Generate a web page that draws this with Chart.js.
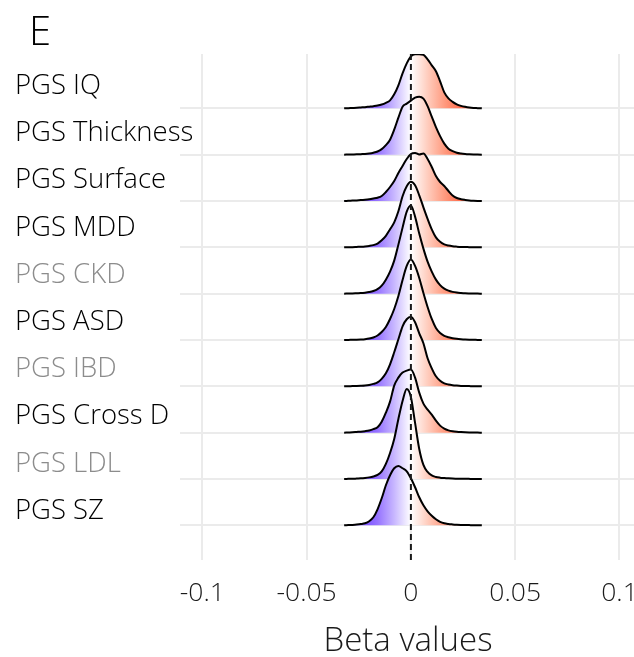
<!DOCTYPE html>
<html>
<head>
<meta charset="utf-8">
<script src="https://cdn.jsdelivr.net/npm/chart.js@4.4.0/dist/chart.umd.min.js"></script>
<style>
  html, body { margin: 0; padding: 0; background: #fff; overflow: hidden; }
  #wrap { width: 660px; height: 657px; }
</style>
</head>
<body>
<div id="wrap"><canvas id="ridges" width="660" height="657"></canvas></div>
<script>
// categories, top to bottom
const categories = ['PGS IQ', 'PGS Thickness', 'PGS Surface', 'PGS MDD', 'PGS CKD',
                    'PGS ASD', 'PGS IBD', 'PGS Cross D', 'PGS LDL', 'PGS SZ'];
// grey labels = not significant
const significant = [true, true, true, true, false, true, false, true, false, true];

// beta values at which the densities were read
const betaGrid = [-0.032, -0.030, -0.028, -0.026, -0.024, -0.022, -0.020, -0.018, -0.016, -0.014,
                  -0.012, -0.010, -0.008, -0.006, -0.004, -0.002, 0.000, 0.002, 0.004, 0.006,
                  0.008, 0.010, 0.012, 0.014, 0.016, 0.018, 0.020, 0.022, 0.024, 0.026,
                  0.028, 0.030, 0.032, 0.034];

// densities
const densIQ        = [0, 0.2, 0.4, 0.6, 0.9, 1.2, 1.7, 2.2, 2.8, 3.8, 5.5, 8, 14, 23, 35, 45, 52, 54, 54, 53.5, 49, 43, 37, 27, 16, 10, 6.5, 4, 2.5, 1.5, 0.8, 0.4, 0.2, 0];
const densThickness = [0, 0.1, 0.2, 0.3, 0.5, 0.7, 1.2, 2, 3.2, 5.5, 9.5, 15, 25, 37, 48, 51, 54, 57, 58, 56, 48.5, 38, 27.5, 18.5, 11, 6, 3.5, 2, 1.2, 0.7, 0.4, 0.2, 0.1, 0];
const densSurface   = [0, 0.2, 0.4, 0.6, 0.9, 1.3, 1.8, 2.5, 3.3, 5, 9, 14, 20, 28, 35, 42, 47, 48, 46.5, 47.5, 42, 34, 25, 19, 15, 10, 5.5, 3, 1.8, 1.1, 0.6, 0.3, 0.1, 0];
const densMDD       = [0, 0.1, 0.2, 0.4, 0.6, 0.9, 1.4, 2.2, 3.8, 7, 11.5, 18, 25, 36, 51, 61, 65.5, 62, 52, 40, 28.5, 18, 10, 5.5, 3, 1.8, 1.1, 0.7, 0.4, 0.3, 0.2, 0.1, 0.05, 0];
const densCKD       = [0, 0.1, 0.2, 0.4, 0.6, 1, 1.6, 2.6, 4.5, 8, 14, 22, 33, 49, 66, 82, 88, 77, 60, 45, 32, 22, 14, 8.5, 5, 3, 1.8, 1.1, 0.7, 0.4, 0.25, 0.15, 0.05, 0];
const densASD       = [0, 0.1, 0.2, 0.3, 0.5, 0.8, 1.4, 2.5, 4.5, 8, 13, 21, 31, 44, 60, 74, 80.5, 74, 62, 47, 33, 21, 12, 7, 4.2, 2.8, 1.8, 1.2, 0.8, 0.5, 0.3, 0.2, 0.1, 0];
const densIBD       = [0, 0.1, 0.2, 0.3, 0.5, 0.8, 1.4, 2.4, 4, 7.5, 13, 22, 34, 47, 60, 67, 69.5, 64, 53, 43, 28, 18, 10, 5.5, 3, 1.8, 1.1, 0.7, 0.4, 0.3, 0.2, 0.1, 0.05, 0];
const densCrossD    = [0, 0.2, 0.4, 0.7, 1, 1.5, 2.2, 3.5, 5.5, 11, 20, 31, 47, 55, 60, 62, 63, 55, 40, 29, 23, 18, 12, 7, 4, 2.3, 1.4, 0.9, 0.6, 0.4, 0.25, 0.15, 0.05, 0];
const densLDL       = [0, 0.1, 0.2, 0.4, 0.6, 1, 1.6, 2.5, 4, 7.5, 15, 26, 40, 60, 78, 90, 82, 56, 30, 14, 7, 3.5, 2, 1.3, 0.9, 0.6, 0.4, 0.3, 0.2, 0.15, 0.1, 0.05, 0.02, 0];
const densSZ        = [0, 0.2, 0.4, 0.7, 1.2, 2, 4, 8, 16, 27, 40, 50, 57, 59.3, 57, 54, 47, 38, 28, 20, 14, 9.5, 6, 3.5, 2, 1.3, 0.9, 0.6, 0.4, 0.3, 0.2, 0.1, 0.05, 0];

const densities = [densIQ, densThickness, densSurface, densMDD, densCKD,
                   densASD, densIBD, densCrossD, densLDL, densSZ];

const xTicks = [-0.1, -0.05, 0, 0.05, 0.1];
const xTickLabels = ['-0.1', '-0.05', '0', '0.05', '0.1'];
const refLine = 0;
const panelLetter = 'E';

// ridge height: density units per row
const ROW = 46.3;
const X_MIN = -0.11069, X_MAX = 0.10791;
const Y_MIN = 0.251, Y_MAX = 11.173;
const L_MIN = -0.081, L_MAX = 10.642;
const FONT = '"Open Sans", "DejaVu Sans", sans-serif';

// fill colour by beta value
const fillStops = [
  [-0.032, 'rgb(90,40,255)'],
  [-0.024, 'rgb(115,70,255)'],
  [-0.016, 'rgb(150,115,255)'],
  [-0.008, 'rgb(200,183,255)'],
  [0.000, 'rgb(255,255,255)'],
  [0.008, 'rgb(255,205,190)'],
  [0.016, 'rgb(255,155,128)'],
  [0.024, 'rgb(255,108,76)'],
  [0.034, 'rgb(250,60,30)']
];

let gradCache = null;
function ridgeFill(context) {
  const chart = context.chart;
  const { ctx, chartArea, scales } = chart;
  if (!chartArea) return 'rgba(0,0,0,0)';
  if (gradCache) return gradCache;
  const v0 = fillStops[0][0], v1 = fillStops[fillStops.length - 1][0];
  const g = ctx.createLinearGradient(scales.x.getPixelForValue(v0), 0, scales.x.getPixelForValue(v1), 0);
  fillStops.forEach(([v, c]) => g.addColorStop((v - v0) / (v1 - v0), c));
  gradCache = g;
  return g;
}

const n = categories.length;
// top ridge drawn first, lower ridges cover it
const datasets = categories.map((name, i) => {
  const base = n - i;
  return {
    label: name,
    data: betaGrid.map((b, k) => ({ x: b, y: base + densities[i][k] / ROW })),
    borderColor: '#000',
    borderWidth: 2,
    backgroundColor: ridgeFill,
    fill: { value: base },
    pointRadius: 0,
    cubicInterpolationMode: 'monotone',
    order: n - i
  };
});

datasets.push({
  label: 'zero',
  data: [{ x: refLine, y: Y_MIN }, { x: refLine, y: Y_MAX }],
  borderColor: '#1a1a1a',
  borderWidth: 2,
  borderDash: [6, 4],
  pointRadius: 0,
  fill: false,
  order: 0
});

const panelTag = {
  id: 'panelTag',
  afterDraw(chart) {
    const ctx = chart.ctx;
    ctx.save();
    ctx.font = '300 40px ' + FONT;
    ctx.fillStyle = '#000';
    ctx.textBaseline = 'alphabetic';
    ctx.textAlign = 'left';
    ctx.fillText(panelLetter, 29, 45);
    ctx.restore();
  }
};

new Chart(document.getElementById('ridges'), {
  type: 'line',
  data: { datasets },
  plugins: [panelTag],
  options: {
    responsive: false,
    animation: false,
    devicePixelRatio: 1,
    layout: { padding: { left: 15, right: 24, top: 54, bottom: 0 } },
    plugins: { legend: { display: false }, tooltip: { enabled: false } },
    scales: {
      x: {
        type: 'linear',
        min: X_MIN,
        max: X_MAX,
        afterBuildTicks: s => { s.ticks = xTicks.map(v => ({ value: v })); },
        afterFit: s => { s.height = 97; },
        grid: { color: '#ebebeb', lineWidth: 2, drawTicks: false },
        border: { display: false },
        ticks: {
          callback: (v, i) => xTickLabels[i],
          color: '#1a1a1a',
          font: { family: FONT, size: 26.5, weight: '300' },
          padding: 18,
          maxRotation: 0,
          autoSkip: false
        },
        title: {
          display: true,
          text: 'Beta values',
          color: '#1a1a1a',
          font: { family: FONT, size: 33, weight: '300', lineHeight: 0.95 },
          padding: { top: 0, bottom: 0 }
        }
      },
      y: {
        type: 'linear',
        position: 'left',
        weight: 0,
        min: Y_MIN,
        max: Y_MAX,
        afterBuildTicks: s => { s.ticks = categories.map((c, i) => ({ value: n - i })); },
        afterFit: s => { s.width = 165; },
        grid: { color: '#ebebeb', lineWidth: 2, drawTicks: false },
        border: { display: false },
        ticks: { display: false }
      },
      yLabels: {
        type: 'linear',
        position: 'left',
        weight: 10,
        min: L_MIN,
        max: L_MAX,
        afterBuildTicks: s => { s.ticks = categories.map((c, i) => ({ value: n - i })); },
        afterFit: s => { s.width = 0; },
        grid: { display: false },
        border: { display: false },
        ticks: {
          callback: (v, i) => categories[i],
          color: c => significant[c.index] ? '#000' : '#8c8c8c',
          font: { family: FONT, size: 27.5, weight: '300' },
          mirror: true,
          crossAlign: 'near',
          padding: 0,
          labelOffset: 2,
          autoSkip: false
        }
      }
    }
  }
});
</script>
</body>
</html>
